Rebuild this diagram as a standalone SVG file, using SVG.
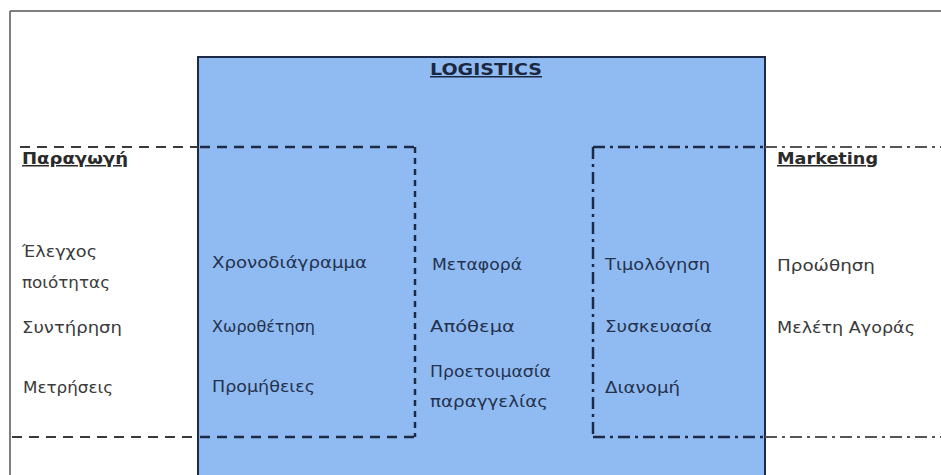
<svg xmlns="http://www.w3.org/2000/svg" width="941" height="475" viewBox="0 0 941 475">
<style>
.t{font-family:"DejaVu Sans","Noto Sans",sans-serif;font-size:15px;fill:#3a3a3a}
.ti{font-family:"DejaVu Sans","Noto Sans",sans-serif;font-size:15px;fill:#25324d}
.h{font-family:"DejaVu Sans","Noto Sans",sans-serif;font-size:15px;font-weight:bold;fill:#2a2a2a;text-decoration:underline}
.hi{font-family:"DejaVu Sans","Noto Sans",sans-serif;font-size:15px;font-weight:bold;fill:#1c2740;text-decoration:underline}
.frame{stroke:#555;stroke-width:1.5;fill:none}
.dIn{stroke:#1c2a45;stroke-width:2.5;fill:none;stroke-dasharray:10 7}
.dOut{stroke:#3a3a3a;stroke-width:1.8;fill:none;stroke-dasharray:10 7}
.vIn{stroke:#1c2a45;stroke-width:2.5;fill:none;stroke-dasharray:6 5}
.ddIn{stroke:#1c2a45;stroke-width:2.5;fill:none;stroke-dasharray:12 5 3 5}
.ddOut{stroke:#555;stroke-width:1.8;fill:none;stroke-dasharray:12 5 3 5}
</style>
<rect x="0" y="0" width="941" height="475" fill="#ffffff"/>
<g id="frame">
<line class="frame" x1="10" y1="11" x2="941" y2="11"/>
<line class="frame" x1="10" y1="11" x2="10" y2="475"/>
</g>
<g id="logistics">
<rect x="198" y="57" width="567" height="430" fill="#90bbf2" stroke="#1c2a45" stroke-width="2"/>
<text class="hi" x="430" y="75" textLength="112" lengthAdjust="spacingAndGlyphs">LOGISTICS</text>
<text class="ti" x="432" y="270" textLength="90" lengthAdjust="spacingAndGlyphs">Μεταφορά</text>
<text class="ti" x="430" y="332" textLength="85" lengthAdjust="spacingAndGlyphs">Απόθεμα</text>
<text class="ti" x="430" y="377" textLength="121" lengthAdjust="spacingAndGlyphs">Προετοιμασία</text>
<text class="ti" x="430" y="407" textLength="118" lengthAdjust="spacingAndGlyphs">παραγγελίας</text>
</g>
<g id="connectors">
<g id="production-border">
<line class="dOut" x1="20" y1="147" x2="198" y2="147"/>
<line class="dIn" x1="200" y1="147" x2="415" y2="147"/>
<line class="vIn" x1="415" y1="147" x2="415" y2="437"/>
<line class="dOut" x1="12" y1="437" x2="198" y2="437"/>
<line class="dIn" x1="200" y1="437" x2="415" y2="437"/>
</g>
<g id="marketing-border">
<line class="ddIn" x1="593" y1="147" x2="593" y2="437"/>
<line class="ddIn" x1="593" y1="147" x2="765" y2="147"/>
<line class="ddOut" x1="765" y1="147" x2="941" y2="147"/>
<line class="ddIn" x1="593" y1="437" x2="765" y2="437"/>
<line class="ddOut" x1="765" y1="437" x2="941" y2="437"/>
</g>
</g>
<g id="production">
<text class="h" x="22" y="164" textLength="106" lengthAdjust="spacingAndGlyphs">Παραγωγή</text>
<text class="t" x="22" y="257" textLength="75" lengthAdjust="spacingAndGlyphs">Έλεγχος</text>
<text class="t" x="22" y="288" textLength="88" lengthAdjust="spacingAndGlyphs">ποιότητας</text>
<text class="t" x="22" y="333" textLength="100" lengthAdjust="spacingAndGlyphs">Συντήρηση</text>
<text class="t" x="23" y="393" textLength="90" lengthAdjust="spacingAndGlyphs">Μετρήσεις</text>
</g>
<g id="production-logistics">
<text class="ti" x="212" y="268" textLength="155" lengthAdjust="spacingAndGlyphs">Χρονοδιάγραμμα</text>
<text class="ti" x="212" y="332" textLength="103" lengthAdjust="spacingAndGlyphs">Χωροθέτηση</text>
<text class="ti" x="212" y="392" textLength="103" lengthAdjust="spacingAndGlyphs">Προμήθειες</text>
</g>
<g id="marketing-logistics">
<text class="ti" x="605" y="270" textLength="105" lengthAdjust="spacingAndGlyphs">Τιμολόγηση</text>
<text class="ti" x="605" y="332" textLength="107" lengthAdjust="spacingAndGlyphs">Συσκευασία</text>
<text class="ti" x="605" y="393" textLength="75" lengthAdjust="spacingAndGlyphs">Διανομή</text>
</g>
<g id="marketing">
<text class="h" x="777" y="164" textLength="101" lengthAdjust="spacingAndGlyphs">Marketing</text>
<text class="t" x="777" y="271" textLength="98" lengthAdjust="spacingAndGlyphs">Προώθηση</text>
<text class="t" x="777" y="333" textLength="138" lengthAdjust="spacingAndGlyphs">Μελέτη Αγοράς</text>
</g>
</svg>
